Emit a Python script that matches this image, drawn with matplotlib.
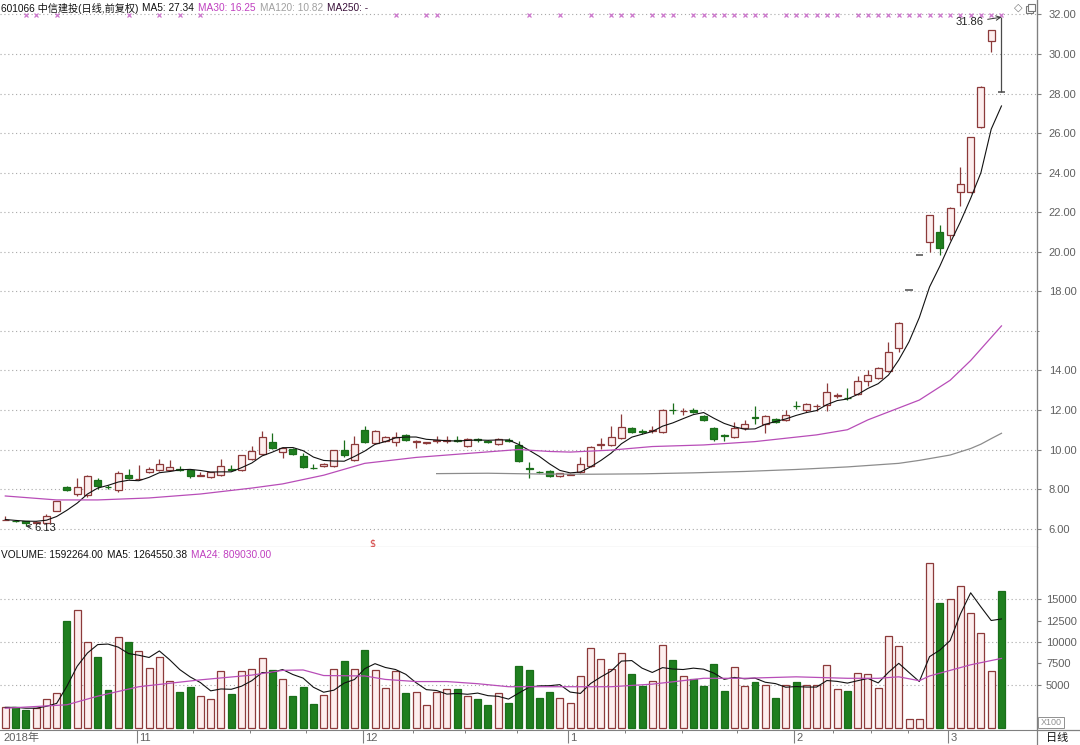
import numpy as np
import pandas as pd
import matplotlib
matplotlib.use("Agg")
import matplotlib.pyplot as plt
import matplotlib.transforms as mtransforms
from matplotlib.lines import Line2D
from matplotlib.patches import Rectangle

plt.rcParams['font.family'] = ['Liberation Sans', 'Noto Sans CJK SC', 'DejaVu Sans']

# daily candles, 601066, late Oct 2018 -> Mar 2019
opens = [6.44, 6.40, 6.36, 6.30, 6.28, 6.90, 8.10, 7.75, 7.70, 8.45,
         8.12, 7.95, 8.70, 8.50, 8.85, 8.95, 8.95, 9.02, 8.95, 8.68,
         8.60, 8.70, 9.02, 8.95, 9.50, 9.75, 10.40, 9.85, 10.05, 9.65,
         9.06, 9.15, 9.15, 9.95, 9.45, 11.00, 10.35, 10.45, 10.40, 10.75,
         10.39, 10.33, 10.44, 10.43, 10.47, 10.20, 10.52, 10.42, 10.30, 10.47,
         10.25, 9.07, 8.87, 8.90, 8.65, 8.73, 8.85, 9.15, 10.23, 10.25,
         10.60, 11.10, 10.92, 10.93, 10.90, 12.02, 11.93, 12.00, 11.70, 11.10,
         10.72, 10.65, 11.10, 11.62, 11.30, 11.55, 11.50, 12.22, 12.00, 12.18,
         12.25, 12.73, 12.62, 12.80, 13.45, 13.60, 13.95, 15.15, 18.05, 19.86,
         20.50, 21.00, 20.85, 23.00, 23.00, 26.30, 30.65, 28.07]
highs = [6.62, 6.42, 6.38, 6.40, 6.75, 7.42, 8.14, 8.55, 8.70, 8.55,
         8.20, 8.90, 9.00, 9.22, 9.10, 9.50, 9.45, 9.15, 9.00, 8.85,
         8.88, 9.50, 9.20, 9.72, 10.20, 10.95, 10.85, 10.15, 10.10, 9.80,
         9.25, 9.30, 10.00, 10.50, 10.70, 11.20, 11.00, 10.70, 10.90, 10.80,
         10.50, 10.40, 10.70, 10.70, 10.70, 10.60, 10.60, 10.50, 10.60, 10.60,
         10.45, 9.35, 8.90, 8.95, 8.82, 8.80, 9.60, 10.20, 10.60, 11.20,
         11.80, 11.15, 11.05, 11.20, 12.05, 12.35, 12.10, 12.10, 11.75, 11.15,
         10.80, 11.40, 11.50, 12.20, 11.75, 11.60, 12.00, 12.45, 12.35, 12.30,
         13.35, 12.85, 13.10, 13.70, 14.00, 14.15, 15.45, 16.45, 18.05, 19.86,
         21.85, 21.35, 22.25, 24.30, 25.80, 28.38, 31.19, 31.86]
lows = [6.42, 6.33, 6.13, 6.25, 6.25, 6.88, 7.92, 7.65, 7.60, 8.00,
        8.00, 7.85, 8.50, 8.48, 8.80, 8.90, 8.93, 8.90, 8.55, 8.66,
        8.58, 8.68, 8.92, 8.90, 9.45, 9.70, 10.05, 9.55, 9.70, 9.05,
        9.03, 9.12, 9.10, 9.60, 9.40, 10.35, 10.30, 10.40, 10.20, 10.45,
        10.10, 10.30, 10.35, 10.35, 10.40, 10.15, 10.40, 10.35, 10.25, 10.40,
        9.35, 8.55, 8.80, 8.62, 8.62, 8.70, 8.80, 9.10, 10.05, 10.20,
        10.55, 10.85, 10.80, 10.85, 10.85, 11.80, 11.75, 11.85, 11.45, 10.45,
        10.45, 10.60, 11.00, 11.30, 10.85, 11.35, 11.45, 12.05, 11.90, 11.95,
        11.95, 12.60, 12.50, 12.75, 13.20, 13.55, 13.90, 14.95, 18.05, 19.86,
        20.00, 19.85, 20.60, 22.30, 22.95, 26.25, 30.10, 28.07]
closes = [6.46, 6.37, 6.30, 6.35, 6.64, 7.40, 7.95, 8.10, 8.65, 8.15,
          8.08, 8.80, 8.55, 8.53, 9.00, 9.25, 9.10, 8.98, 8.65, 8.72,
          8.85, 9.15, 8.98, 9.70, 9.90, 10.65, 10.10, 10.10, 9.75, 9.10,
          9.04, 9.25, 9.95, 9.70, 10.30, 10.40, 10.95, 10.65, 10.65, 10.50,
          10.41, 10.37, 10.47, 10.46, 10.44, 10.55, 10.49, 10.39, 10.55, 10.44,
          9.40, 9.03, 8.84, 8.65, 8.80, 8.77, 9.25, 10.15, 10.27, 10.65,
          11.15, 10.90, 10.88, 10.97, 12.00, 11.98, 11.97, 11.90, 11.50, 10.55,
          10.68, 11.10, 11.30, 11.58, 11.70, 11.40, 11.75, 12.18, 12.30, 12.22,
          12.90, 12.77, 12.58, 13.45, 13.75, 14.10, 14.95, 16.40, 18.05, 19.86,
          21.85, 20.20, 22.20, 23.45, 25.80, 28.35, 31.19, 28.07]
# volume in lots x100
volumes = [2400, 2400, 2100, 2300, 3400, 4100, 12400, 13700, 10000, 8300,
           4400, 10600, 10000, 9000, 7000, 8200, 5500, 4200, 4800, 3700,
           3400, 6600, 4000, 6600, 6900, 8100, 6700, 5700, 3700, 4800,
           2800, 3800, 6900, 7800, 6900, 9100, 6700, 4700, 6600, 4100,
           4200, 2700, 4200, 4500, 4500, 3700, 3400, 2700, 4100, 2900,
           7200, 6800, 3500, 4200, 3500, 2900, 6000, 9300, 8000, 6900,
           8700, 6300, 4900, 5500, 9700, 7900, 6000, 5700, 4900, 7400,
           4300, 7100, 4900, 5300, 5000, 3500, 5000, 5300, 5000, 5000,
           7300, 4500, 4300, 6400, 6300, 4700, 10700, 9500, 1050, 1050,
           19200, 14500, 15000, 16500, 13400, 11000, 6600, 15900]

# moving-average lines (candle index -> value)
ma30_idx = [1, 6, 10, 15, 20, 25, 28, 32, 36, 41, 46, 51, 54, 56, 60, 64, 69, 74, 80, 83, 85, 90, 93, 95, 98]
ma30_val = [7.65, 7.45, 7.45, 7.55, 7.75, 8.05, 8.26, 8.70, 9.30, 9.60, 9.80, 10.00, 9.90, 9.87,
            9.97, 10.15, 10.23, 10.40, 10.74, 11.00, 11.50, 12.50, 13.50, 14.50, 16.25]
ma120_idx = [43, 48, 53, 58, 63, 68, 73, 78, 83, 88, 90, 93, 95, 96, 97, 98]
ma120_val = [8.78, 8.80, 8.76, 8.75, 8.77, 8.82, 8.89, 8.99, 9.12, 9.30, 9.45, 9.72, 10.05, 10.27, 10.55, 10.82]
vma24_idx = [1, 7, 10, 14, 20, 25, 28, 30, 32, 36, 38, 41, 44, 47, 50, 54, 60, 64, 69, 73, 78, 83, 86, 88, 90, 91, 95, 98]
vma24_val = [2300, 2700, 3700, 4800, 5600, 6150, 6700, 6750, 6100, 6050, 5650, 5400, 5400, 5150, 4800,
             4800, 4800, 5100, 5780, 5780, 5950, 5780, 5780, 5950, 5500, 6050, 7350, 8090]

signal_marks = [3, 4, 6, 13, 16, 18, 20, 39, 42, 43, 52, 55, 58, 60, 61, 62, 64, 65, 66,
                68, 69, 70, 71, 72, 73, 74, 75, 77, 78, 79, 80, 81, 82] + list(range(84, 99))
ex_div = [36.7]

price_ticks = [6, 8, 10, 12, 14, 18, 20, 22, 24, 26, 28, 30, 32]
price_grid = [6, 8, 10, 12, 14, 16, 18, 20, 22, 24, 26, 28, 30, 32]
vol_ticks = [5000, 7500, 10000, 12500, 15000]
vol_grid = [5000, 10000, 15000]
month_labels = ['2018年', '11', '12', '1', '2', '3']
month_pos = [0.6, 13.8, 35.8, 55.8, 77.8, 92.8]
week_pos = [19.3, 24.8, 30.3, 40.7, 45.8, 50.8, 61.3, 66.9, 72.2, 81.6, 85.3, 88.9]

price_header = [('601066 中信建投(日线,前复权)', '#111111'), ('MA5: 27.34', '#111111'),
                ('MA30: 16.25', '#c040c0'), ('MA120: 10.82', '#a0a0a0'), ('MA250: -', '#3a103a')]
vol_header = [('VOLUME: 1592264.00', '#111111'), ('MA5: 1264550.38', '#111111'),
              ('MA24: 809030.00', '#c040c0')]

UP_FACE, UP_EDGE = '#fdeeee', '#8c3a3a'
DN_FACE, DN_EDGE = '#1f7f1f', '#1a6e1a'
FLAT = '#4a4a4a'
MA30_C = '#b84db8'
GRID_C = '#a8a8a8'
AX_C = '#808080'
LBL_C = '#606060'

o = np.array(opens); h = np.array(highs); l = np.array(lows); c = np.array(closes)
v = np.array(volumes)
n = len(c)
x = np.arange(1, n + 1)
prev = np.concatenate([[c[0]], c[:-1]])
up = c > o
flat = c == o
vol_up = np.where(flat, c >= prev, up)

W, H = 1080, 745
fig = plt.figure(figsize=(W / 100, H / 100), dpi=100)
ax = fig.add_axes([0, 198 / H, 1037 / W, 547 / H])
axv = fig.add_axes([0, 15 / H, 1037 / W, 183 / H])

xlim = (0.484, 101.46)
for a in (ax, axv):
    a.set_xlim(*xlim)
    a.spines['left'].set_visible(False)
    a.spines['top'].set_visible(False)
    a.spines['right'].set_color(AX_C)
    a.spines['bottom'].set_color(AX_C)
    a.yaxis.tick_right()
    a.tick_params(axis='y', which='major', direction='out', length=3, width=0.8,
                  colors=AX_C, labelcolor=LBL_C, labelsize=8, pad=5.5)
    a.tick_params(axis='y', which='minor', direction='out', length=1.6, width=0.7, colors=AX_C)

ax.set_ylim(5.07, 32.73)
ax.set_xticks([])
ax.set_yticks(price_ticks)
ax.set_yticklabels([f'{t:.2f}' for t in price_ticks])
ax.set_yticks([t + 1 for t in range(5, 32, 2)], minor=True)
for g in price_grid:
    ax.axhline(g, color=GRID_C, lw=0.8, ls=(0, (1, 2.5)), zorder=1)

# candles
wick_c = np.where(flat, FLAT, np.where(up, UP_EDGE, DN_EDGE))
ax.vlines(x, l, h, colors=wick_c, lw=0.9, zorder=2)
body = ~flat
ax.bar(x[body], np.abs(c - o)[body], bottom=np.minimum(o, c)[body], width=0.68,
       color=np.where(up, UP_FACE, DN_FACE)[body], edgecolor=np.where(up, UP_EDGE, DN_EDGE)[body],
       linewidth=0.9, zorder=3)
ax.hlines(c[flat], x[flat] - 0.36, x[flat] + 0.36, colors=FLAT, lw=1.1, zorder=3)

ma5 = pd.Series(c).rolling(5, min_periods=1).mean()
ax.plot(x, ma5, color='#111111', lw=0.8, zorder=4)
ax.plot(ma30_idx, ma30_val, color=MA30_C, lw=0.9, zorder=4)
ax.plot(ma120_idx, ma120_val, color='#8c8c8c', lw=0.9, zorder=4)

top_tr = mtransforms.blended_transform_factory(ax.transData, ax.transAxes)
ax.plot(signal_marks, [1 - 15 / 547] * len(signal_marks), 'x', color='#cc77cc',
        ms=3.2, mew=0.9, transform=top_tr, clip_on=False)
for d in ex_div:
    ax.text(d, 4 / 547, '$', color='#d23c3c', fontsize=7, ha='center', va='center',
            transform=top_tr, family='DejaVu Sans')

imax = int(np.argmax(h))
ax.annotate(f'{h[imax]:.2f}', xy=(x[imax], h[imax]), xytext=(-23, -3.5), textcoords='offset points',
            ha='center', va='center', fontsize=8, color='#222222',
            arrowprops=dict(arrowstyle='->', color='#333333', lw=0.7, shrinkA=1, shrinkB=0))
imin = int(np.argmin(l))
ax.annotate(f'{l[imin]:.2f}', xy=(x[imin], l[imin]), xytext=(14, -1.4), textcoords='offset points',
            ha='center', va='center', fontsize=8, color='#222222',
            arrowprops=dict(arrowstyle='->', color='#333333', lw=0.7, shrinkA=1, shrinkB=0))

# volume panel
axv.set_ylim(-233, 21047)
axv.set_yticks(vol_ticks)
axv.set_yticklabels([str(t) for t in vol_ticks])
axv.tick_params(axis='y', which='major', pad=3.5)
for g in vol_grid:
    axv.axhline(g, color=GRID_C, lw=0.8, ls=(0, (1, 2.5)), zorder=1)
axv.bar(x, v, width=0.68, color=np.where(vol_up, UP_FACE, DN_FACE),
        edgecolor=np.where(vol_up, UP_EDGE, DN_EDGE), linewidth=0.9, zorder=3)
vma5 = pd.Series(v).rolling(5, min_periods=1).mean()
axv.plot(x, vma5, color='#111111', lw=0.8, zorder=4)
axv.plot(vma24_idx, vma24_val, color=MA30_C, lw=0.9, zorder=4)

axv.set_xticks(month_pos[1:])
axv.set_xticklabels([])
axv.set_xticks(week_pos, minor=True)
axv.tick_params(axis='x', which='major', direction='out', length=9.5, width=0.8, colors=AX_C)
axv.tick_params(axis='x', which='minor', direction='out', length=2, width=0.7, colors=AX_C)
bot_tr = mtransforms.blended_transform_factory(axv.transData, axv.transAxes)
for p, lab in zip(month_pos, month_labels):
    axv.text(p + 0.2, -8 / 183, lab, transform=bot_tr, ha='left', va='center',
             fontsize=8, color=LBL_C)

# header texts, laid out one after another
renderer = fig.canvas.get_renderer()


def header_row(items, y_px, gap_px=4, size=7.3):
    xpos = 1
    for txt, col in items:
        t = fig.text(xpos / W, 1 - y_px / H, txt, fontsize=size, color=col, va='center')
        xpos = t.get_window_extent(renderer).x1 + gap_px


header_row(price_header, 8)
header_row(vol_header, 555)

# frame pieces outside the axes
fig.add_artist(Line2D([1037 / W, 1037 / W], [0, 1], color=AX_C, lw=0.9))
fig.add_artist(Line2D([1037 / W, 1], [15 / H, 15 / H], color=AX_C, lw=0.9))
fig.text(1057 / W, 7 / H, '日线', fontsize=8, color='#111111', ha='center', va='center')
fig.add_artist(Rectangle((1038 / W, 17 / H), 26 / W, 11 / H, fill=False, ec='#909090', lw=0.7))
fig.text(1051 / W, 22.5 / H, 'X100', fontsize=6.5, color='#909090', ha='center', va='center')
fig.text(1018 / W, 1 - 8 / H, '◇', fontsize=8, color='#777777', ha='center', va='center',
         family='DejaVu Sans')
fig.add_artist(Rectangle((1026 / W, 1 - 13 / H), 7 / W, 7 / H, fill=False, ec='#777777', lw=0.8))
fig.add_artist(Rectangle((1028 / W, 1 - 11 / H), 7 / W, 7 / H, fill=True, fc='white', ec='#777777', lw=0.8))

fig.savefig('out.png', dpi=100, facecolor='white')
